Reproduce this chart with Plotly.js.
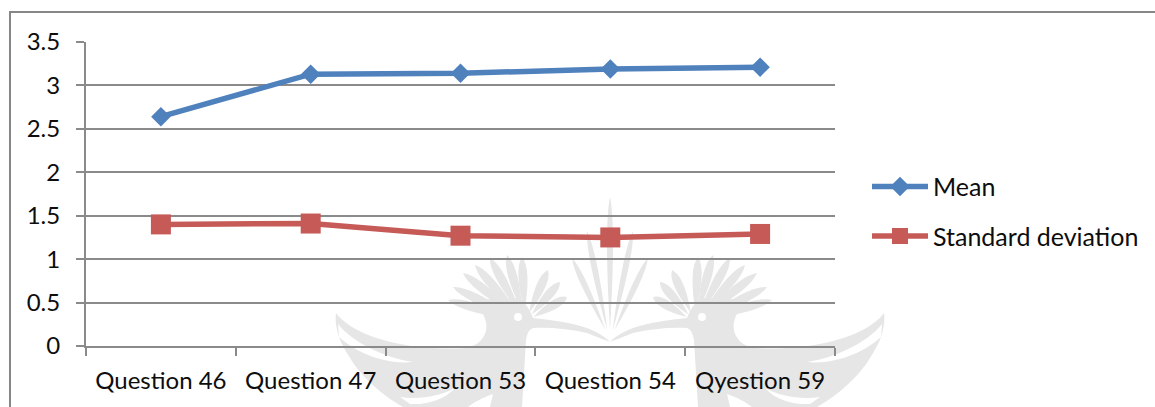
<!DOCTYPE html>
<html>
<head>
<meta charset="utf-8">
<script src="https://cdn.plot.ly/plotly-3.0.1.min.js"></script>
<style>
  html, body { margin: 0; padding: 0; background: #fff; overflow: hidden; }
  #stage { position: relative; width: 1155px; height: 407px; }
  #backdrop, #chart { position: absolute; left: 0; top: 0; width: 1155px; height: 407px; }
</style>
</head>
<body>
<div id="stage">
  <svg id="backdrop" xmlns="http://www.w3.org/2000/svg" width="1155" height="407" viewBox="0 0 1155 407">
    <g id="crest-art" fill="#e6e6e6"></g>
    <path d="M10 407 V12 H1155" fill="none" stroke="#868686" stroke-width="2"/>
  </svg>
  <div id="chart"></div>
</div>
<script>
const questions = ["Question 46", "Question 47", "Question 53", "Question 54", "Qyestion 59"];
const meanValues = [2.64, 3.13, 3.14, 3.19, 3.21];
const sdValues = [1.40, 1.41, 1.27, 1.25, 1.29];
const yTicks = [0, 0.5, 1, 1.5, 2, 2.5, 3, 3.5];
const yTickLabels = ["0", "0.5", "1", "1.5", "2", "2.5", "3", "3.5"];

// Emblem behind the chart: two mirrored hoopoes around a central plume.
const NS = "http://www.w3.org/2000/svg";
const featherTips = [[448,300],[453,287],[463,273],[475,265],[490,258],[507,255],[522,257],[548,270],[560,282],[567,297]];
const plumeTips = [[610,197],[587,231],[572,258]];

function feather(x0, y0, x1, y1, w) {
  const dx = x1 - x0, dy = y1 - y0, len = Math.hypot(dx, dy);
  const nx = -dy / len, ny = dx / len;
  const mx = x0 + dx * 0.78, my = y0 + dy * 0.78;
  return `M${x0} ${y0} Q${mx + nx * w} ${my + ny * w} ${x1} ${y1} Q${mx - nx * w} ${my - ny * w} ${x0} ${y0}Z`;
}

function addPath(parent, d, fill) {
  const p = document.createElementNS(NS, "path");
  p.setAttribute("d", d);
  if (fill) p.setAttribute("fill", fill);
  parent.appendChild(p);
}

function drawBird(parent) {
  featherTips.forEach(([x, y]) => {
    const dx = x - 525, dy = y - 322, len = Math.hypot(dx, dy);
    addPath(parent, feather(525 + dx / len * 10, 322 + dy / len * 10, x, y, 9));
  });
  addPath(parent, "M336 313 C350 332 385 343 420 347 C445 349 462 349 470 347 C482 343 488 333 486 322 C484 313 478 306 470 300 L520 298 C526 304 530 310 533 318 C550 320 570 322 587 328 C597 332 604 336 610 342 C600 338 592 335 587 333 C570 329 550 327 533 328 C528 330 527 335 526 340 L522 407 L403 407 C385 397 362 378 350 358 C345 350 341 343 339 337 C336 328 335 320 336 313Z");
  addPath(parent, "M338 324 C352 342 385 358 413 362 C385 365 355 352 339 337Z", "#fff");
  addPath(parent, "M493 394 C482 398 474 402 468 407 L490 407Z", "#fff");
  addPath(parent, "M400 397 C420 400 440 396 455 388 C445 400 425 405 410 404Z", "#fff");
  const eye = document.createElementNS(NS, "circle");
  eye.setAttribute("cx", 518); eye.setAttribute("cy", 317); eye.setAttribute("r", 4);
  eye.setAttribute("fill", "#fff");
  parent.appendChild(eye);
}

const art = document.getElementById("crest-art");
const leftBird = document.createElementNS(NS, "g");
const rightBird = document.createElementNS(NS, "g");
rightBird.setAttribute("transform", "translate(1220 0) scale(-1 1)");
art.appendChild(leftBird);
art.appendChild(rightBird);
drawBird(leftBird);
drawBird(rightBird);
plumeTips.forEach(([x, y]) => {
  addPath(art, feather(610 - (610 - x) * 0.12, 330, x, y, 6));
  if (x !== 610) addPath(art, feather(610 + (610 - x) * 0.12, 330, 1220 - x, y, 6));
});

// The chart itself.
const fontFamily = "Lato, 'Open Sans', sans-serif";
const axisColor = "#8a8a8a";
const textColor = "#0d0d0d";

const meanTrace = {
  x: questions, y: meanValues, name: "Mean", type: "scatter", mode: "lines+markers",
  legendgroup: "mean",
  line: { color: "#4f81bd", width: 5.5 },
  marker: { symbol: "diamond", size: 15, color: "#4f81bd" }
};
const sdTrace = {
  x: questions, y: sdValues, name: "Standard deviation", type: "scatter", mode: "lines+markers",
  legendgroup: "sd",
  line: { color: "#c55a57", width: 5.5 },
  marker: { symbol: "square", size: 20, color: "#c55a57" }
};

const layout = {
  width: 1155, height: 407,
  margin: { l: 86, r: 320, t: 41.5, b: 60.5, pad: 0 },
  paper_bgcolor: "rgba(0,0,0,0)",
  plot_bgcolor: "rgba(0,0,0,0)",
  font: { family: fontFamily, size: 24, color: textColor },
  showlegend: true,
  legend: {
    xref: "container", x: 867 / 1155, xanchor: "left",
    yref: "container", y: 0.481, yanchor: "middle",
    bgcolor: "rgba(0,0,0,0)", borderwidth: 0,
    itemwidth: 56, tracegroupgap: 14,
    font: { family: fontFamily, size: 25, color: textColor }
  },
  xaxis: {
    type: "category", categoryorder: "array", categoryarray: questions,
    range: [-0.5, 4.5], tickson: "boundaries",
    showgrid: false, zeroline: false,
    showline: true, linecolor: axisColor, linewidth: 2,
    ticks: "outside", ticklen: 8, tickwidth: 2, tickcolor: axisColor,
    tickfont: { family: fontFamily, size: 24, color: textColor },
    ticklabelstandoff: 12
  },
  yaxis: {
    range: [0, 3.5], tickmode: "array", tickvals: yTicks, ticktext: yTickLabels,
    showgrid: true, gridcolor: axisColor, gridwidth: 2, zeroline: false,
    showline: true, linecolor: axisColor, linewidth: 2,
    ticks: "outside", ticklen: 8, tickwidth: 2, tickcolor: axisColor,
    tickfont: { family: fontFamily, size: 24, color: textColor },
    ticklabelstandoff: 11
  }
};

Plotly.newPlot("chart", [meanTrace, sdTrace], layout, { displayModeBar: false, staticPlot: true });
</script>
</body>
</html>
